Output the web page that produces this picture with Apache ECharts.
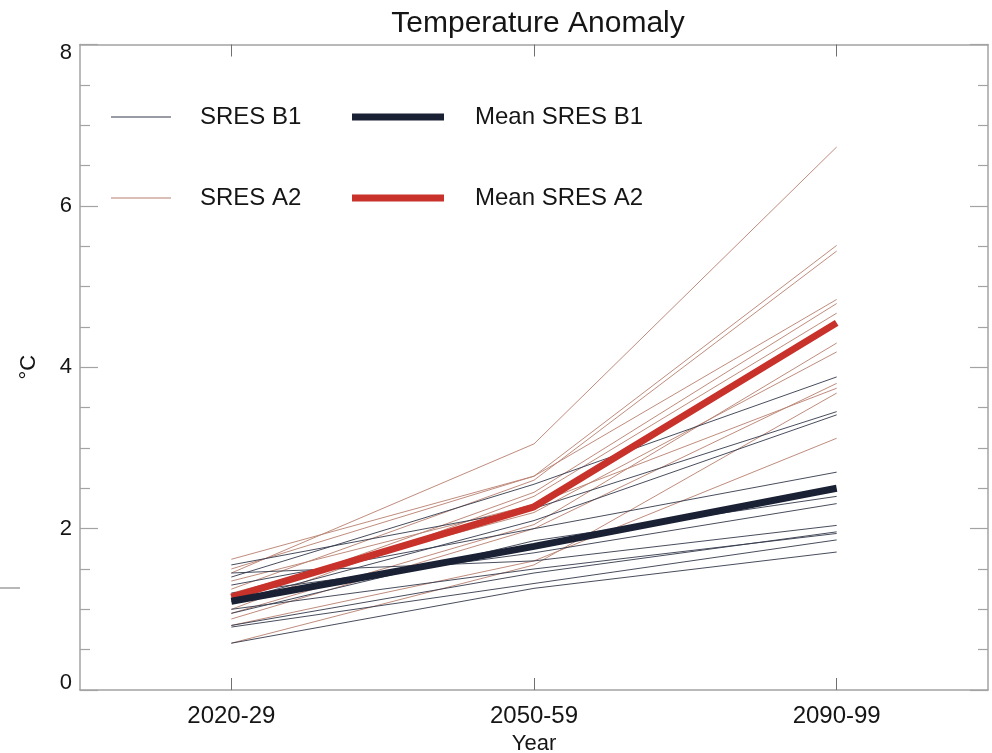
<!DOCTYPE html>
<html>
<head>
<meta charset="utf-8">
<script src="https://cdn.jsdelivr.net/npm/echarts@6/dist/echarts.min.js"></script>
<style>
  html, body { margin: 0; padding: 0; background: #ffffff; }
  #chart { width: 992px; height: 753px; }
</style>
</head>
<body>
<div id="chart"></div>
<script>
// ---- Data ----
const categories = ['2020-29', '2050-59', '2090-99'];
const yTicks = [0, 2, 4, 6, 8];

// Individual SRES A2 model runs: [2020-29, 2050-59, 2090-99]
const a2Runs = [
  [1.45, 3.05, 6.73],
  [1.50, 2.65, 5.51],
  [1.25, 2.60, 5.44],
  [1.62, 2.65, 4.84],
  [1.10, 2.45, 4.79],
  [1.00, 2.40, 4.67],
  [0.95, 2.05, 4.30],
  [1.20, 2.20, 4.19],
  [0.88, 2.00, 3.80],
  [1.35, 2.30, 3.74],
  [0.58, 1.55, 3.68],
  [0.80, 1.60, 3.12]
];

// Individual SRES B1 model runs
const b1Runs = [
  [1.40, 2.55, 3.88],
  [1.55, 2.25, 3.45],
  [1.10, 2.10, 3.41],
  [1.30, 2.00, 2.70],
  [0.95, 1.85, 2.40],
  [1.20, 1.70, 2.31],
  [1.45, 1.60, 2.04],
  [0.80, 1.45, 1.96],
  [1.00, 1.50, 1.94],
  [0.78, 1.32, 1.86],
  [0.58, 1.26, 1.71]
];

const meanB1 = [1.10, 1.78, 2.50];
const meanA2 = [1.15, 2.27, 4.55];

// ---- Styles ----
const FONT = '"Liberation Sans", Arial, Helvetica, sans-serif';
const B1_COLOR = '#343a4b';
const A2_COLOR = '#b8806f';
const MEAN_B1_COLOR = '#1b2134';
const MEAN_A2_COLOR = '#c8322b';
const FRAME = '#a3a3a3';

const series = [];
a2Runs.forEach(function (run) {
  series.push({
    name: 'SRES A2', type: 'line', data: run, symbol: 'none', silent: true,
    itemStyle: { color: A2_COLOR },
    lineStyle: { color: A2_COLOR, width: 1, opacity: 0.9 }, z: 2
  });
});
b1Runs.forEach(function (run) {
  series.push({
    name: 'SRES B1', type: 'line', data: run, symbol: 'none', silent: true,
    itemStyle: { color: B1_COLOR },
    lineStyle: { color: B1_COLOR, width: 1, opacity: 0.9 }, z: 2
  });
});
series.push({
  name: 'Mean SRES B1', type: 'line', data: meanB1, symbol: 'none', silent: true,
  itemStyle: { color: MEAN_B1_COLOR },
  lineStyle: { color: MEAN_B1_COLOR, width: 7 }, z: 4
});
series.push({
  name: 'Mean SRES A2', type: 'line', data: meanA2, symbol: 'none', silent: true,
  itemStyle: { color: MEAN_A2_COLOR },
  lineStyle: { color: MEAN_A2_COLOR, width: 7 }, z: 3
});
// invisible helper series so the mirrored top/right axes are drawn with ticks
series.push({
  name: '_frame', type: 'line', xAxisIndex: 1, yAxisIndex: 1,
  data: [null, null, null], symbol: 'none', silent: true, lineStyle: { opacity: 0 }
});

function legendItem(name, color, left, top, w, h, pad) {
  return {
    data: [{ name: name, itemStyle: { color: color, borderWidth: 0 } }],
    left: left, top: top, padding: 0, icon: 'rect',
    itemWidth: w, itemHeight: h, selectedMode: false,
    itemStyle: { borderWidth: 0 },
    textStyle: { fontFamily: FONT, fontSize: 24, color: '#151515', padding: [0, 0, 0, pad] }
  };
}

const yLabelRich = {
  top: { fontFamily: FONT, fontSize: 22, color: '#151515', padding: [16, 0, 0, 0] },
  bot: { fontFamily: FONT, fontSize: 22, color: '#151515', padding: [0, 0, 14, 0] }
};

const tickStyle = { color: '#707070', width: 1 };

const option = {
  animation: false,
  backgroundColor: '#ffffff',
  title: {
    text: 'Temperature Anomaly',
    left: 533, top: 4, textAlign: 'center',
    textStyle: { fontFamily: FONT, fontSize: 30, fontWeight: 'normal', color: '#151515' }
  },
  legend: [
    legendItem('SRES B1', B1_COLOR, 111, 105, 60, 1, 24),
    legendItem('SRES A2', A2_COLOR, 111, 186, 60, 1, 24),
    legendItem('Mean SRES B1', MEAN_B1_COLOR, 352, 105, 92, 7, 26),
    legendItem('Mean SRES A2', MEAN_A2_COLOR, 352, 186, 92, 7, 26)
  ],
  grid: { left: 80, right: 4, top: 44.5, bottom: 63, containLabel: false, outerBoundsMode: 'none' },
  xAxis: [
    {
      type: 'category', data: categories, position: 'bottom', boundaryGap: true,
      name: 'Year', nameLocation: 'middle', nameGap: 41,
      nameTextStyle: { fontFamily: FONT, fontSize: 22, color: '#151515' },
      axisLine: { show: true, lineStyle: { color: FRAME, width: 1.5 } },
      axisTick: { show: true, inside: true, alignWithLabel: true, interval: 0, length: 12, lineStyle: tickStyle },
      axisLabel: { margin: 14, interval: 0, fontFamily: FONT, fontSize: 24, color: '#151515' },
      splitLine: { show: false }
    },
    {
      type: 'category', data: categories, position: 'top', boundaryGap: true,
      axisLine: { show: true, onZero: false, lineStyle: { color: FRAME, width: 1.5 } },
      axisTick: { show: true, inside: true, alignWithLabel: true, interval: 0, length: 12, lineStyle: tickStyle },
      axisLabel: { show: false },
      splitLine: { show: false }
    }
  ],
  yAxis: [
    {
      type: 'value', min: yTicks[0], max: yTicks[yTicks.length - 1], interval: 2, position: 'left',
      name: '°C', nameLocation: 'middle', nameGap: 40,
      nameTextStyle: { fontFamily: FONT, fontSize: 22, color: '#151515' },
      axisLine: { show: true, lineStyle: { color: FRAME, width: 1.5 } },
      axisTick: { show: true, inside: true, length: 18, lineStyle: { color: FRAME, width: 1.2 } },
      minorTick: { show: true, splitNumber: 4, length: 10, lineStyle: { color: FRAME, width: 1.2 } },
      axisLabel: {
        margin: 8, fontFamily: FONT, fontSize: 22, color: '#151515',
        formatter: function (v) {
          if (v === yTicks[yTicks.length - 1]) return '{top|' + v + '}';
          if (v === yTicks[0]) return '{bot|' + v + '}';
          return String(v);
        },
        rich: yLabelRich
      },
      splitLine: { show: false }
    },
    {
      type: 'value', min: yTicks[0], max: yTicks[yTicks.length - 1], interval: 2, position: 'right',
      axisLine: { show: true, onZero: false, lineStyle: { color: FRAME, width: 1.5 } },
      axisTick: { show: true, inside: true, length: 18, lineStyle: { color: FRAME, width: 1.2 } },
      minorTick: { show: true, splitNumber: 4, length: 10, lineStyle: { color: FRAME, width: 1.2 } },
      axisLabel: { show: false },
      splitLine: { show: false }
    }
  ],
  graphic: [
    { type: 'line', shape: { x1: 0, y1: 588, x2: 20, y2: 588 }, style: { stroke: '#707070', lineWidth: 1 }, silent: true }
  ],
  series: series
};

const chart = echarts.init(document.getElementById('chart'), null, { renderer: 'canvas' });
chart.setOption(option);
</script>
</body>
</html>
